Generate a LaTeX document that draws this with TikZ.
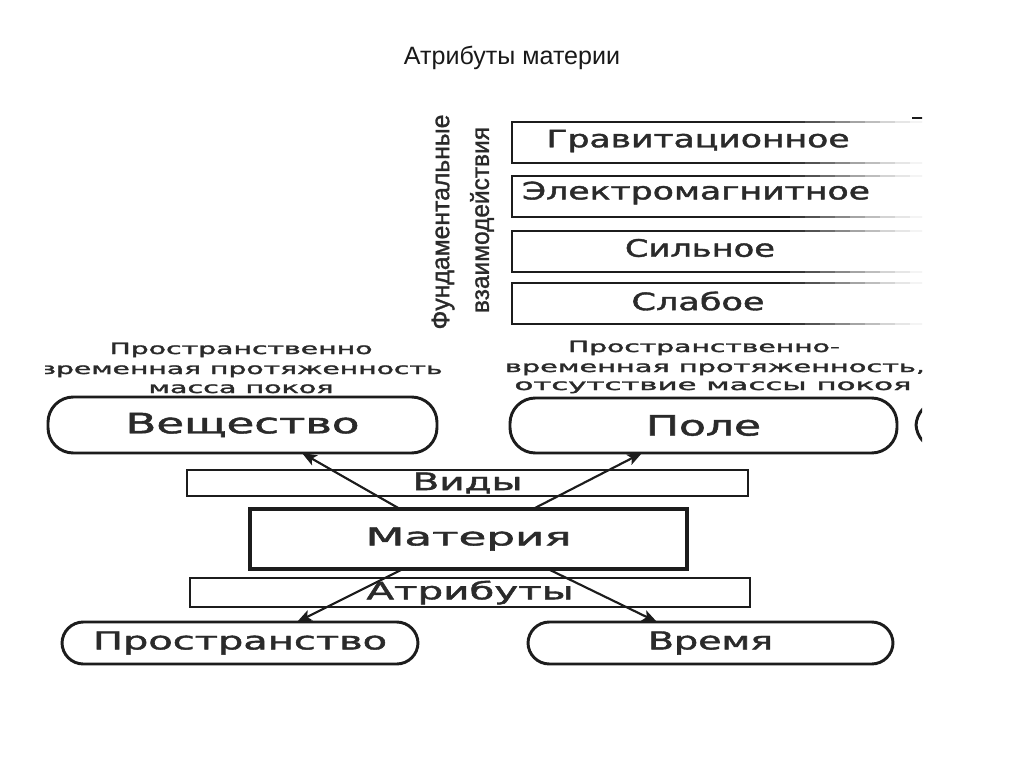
\documentclass[tikz,border=0pt]{standalone}
\usepackage{fontspec}
\setmainfont{Liberation Sans}
\newfontfamily\djf[FakeBold=1.5]{DejaVu Sans}
\newfontfamily\vlf[FakeBold=1.2]{Liberation Sans}
\usetikzlibrary{arrows.meta,calc}
\newlength\pxu \setlength\pxu{0.75pt}
\newcommand\fw[2]{\resizebox{#1\pxu}{\height}{#2}}
\newcommand\djs[1]{\djf\fontsize{#1}{#1}\selectfont}
\definecolor{ink}{HTML}{1C1C1C}
\definecolor{txt}{HTML}{2A2A2A}
\begin{document}
\begin{tikzpicture}[x=0.75pt,y=-0.75pt,
  pill/.style={draw=ink, line width=2.2pt, rounded corners=19pt, inner sep=0pt, outer sep=0pt, text=txt},
  barbox/.style={draw=ink, line width=1.8pt, inner sep=0pt, outer sep=0pt, text=txt},
  mainbox/.style={draw=ink, line width=3pt, inner sep=0pt, outer sep=0pt, text=txt},
  frame/.style={draw=ink, line width=1.8pt},
  conn/.style={draw=ink, line width=1.6pt, -{Stealth[length=11pt,width=8.5pt,inset=2.5pt]}},
  small/.style={font={\djs{11.6pt}}, text=txt, inner sep=0pt, anchor=base},
  mid/.style={font={\djs{18pt}}, text=txt, inner sep=0pt},
  big/.style={font={\djs{21pt}}, text=txt, inner sep=0pt},
  vert/.style={font={\vlf\fontsize{19pt}{19pt}\selectfont}, text=txt, inner sep=0pt, rotate=90}
]
\useasboundingbox[fill=white] (0,0) rectangle (1024,767);

\node[font={\fontsize{18.8pt}{18.8pt}\selectfont}, text=black!90] (title) at (512,58) {Атрибуты материи};

\begin{scope}
\clip (45,95) rectangle (922,700);

% fundamental interactions
\node[vert] (fund1) at (443,222) {\fw{215}{Фундаментальные}};
\node[vert] (fund2) at (482,220) {\fw{186}{взаимодействия}};

\foreach \t/\b in {122/163, 176/217, 231/272, 283/324}{
  \draw[frame] (790,\t) -- (512,\t) -- (512,\b) -- (790,\b);
  \foreach \s/\p in {790/88, 805/76, 820/64, 835/52, 850/40, 865/29, 880/19, 895/11, 910/5}{
    \draw[ink!\p, line width=1.8pt] (\s,\t) -- (\s+15,\t);
    \draw[ink!\p, line width=1.8pt] (\s,\b) -- (\s+15,\b);
  }
}
\node[mid] (grav) at (698,141) {\fw{303}{Гравитационное}};
\node[mid] (elec) at (696,193) {\fw{348}{Электромагнитное}};
\node[mid] (strong) at (700,248) {\fw{150}{Сильное}};
\node[mid] (weak) at (698,301) {\fw{133}{Слабое}};
\draw[ink, line width=1.6pt] (912,118) -- (923,118);

% property labels
\node[small] (sl1) at (241,354) {\fw{263}{Пространственно}};
\node[small] (sl2) at (241,374) {\fw{403}{временная протяженность}};
\node[small] (sl3) at (241,393) {\fw{185}{масса покоя}};
\node[small] (sr1) at (704,352) {\fw{272}{Пространственно-}};
\node[small] (sr2) at (715,372) {\fw{420}{временная протяженность,}};
\node[small] (sr3) at (713,390) {\fw{397}{отсутствие массы покоя}};

% kinds
\node[pill, minimum width=389\pxu, minimum height=56\pxu, big] (ves) at (242.5,425) {\fw{234}{Вещество}};
\node[pill, minimum width=387\pxu, minimum height=55\pxu, big] (pole) at (703.5,425.5) {\fw{115}{Поле}};
\node[pill, minimum width=380\pxu, minimum height=48\pxu] (cut) at (1106,425) {};

\node[barbox, minimum width=561\pxu, minimum height=26\pxu, mid] (vidy) at (467.5,483) {\fw{110}{Виды}};
\node[mainbox, minimum width=437\pxu, minimum height=60\pxu, font={\djs{18.5pt}}] (mat) at (468.5,539) {\fw{206}{Материя}};
\node[barbox, minimum width=560\pxu, minimum height=29\pxu, mid] (attr) at (470,592.5) {\fw{207}{Атрибуты}};

\node[pill, rounded corners=16pt, minimum width=356\pxu, minimum height=42\pxu, font={\djs{18.5pt}}] (space) at (240,643) {\fw{294}{Пространство}};
\node[pill, rounded corners=16pt, minimum width=365\pxu, minimum height=42\pxu, font={\djs{18.5pt}}] (time) at (710.5,643) {\fw{125}{Время}};

% connectors
\draw[conn] ($(mat.north west)+(150,0)$) -- ($(ves.south west)+(254,0)$);
\draw[conn] ($(mat.north west)+(283,0)$) -- ($(pole.south west)+(132,0)$);
\draw[conn] ($(mat.south west)+(153,0)$) -- ($(space.north west)+(235,0)$);
\draw[conn] ($(mat.south west)+(298,0)$) -- ($(time.north west)+(129,0)$);
\end{scope}
\end{tikzpicture}
\end{document}
